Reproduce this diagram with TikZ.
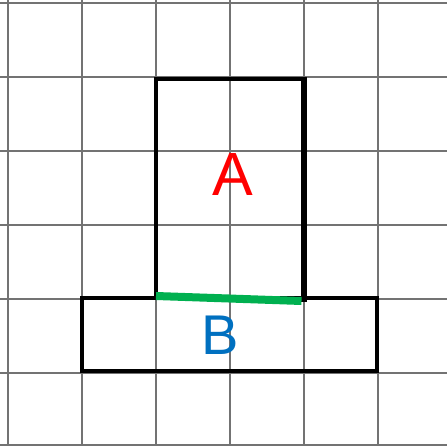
\documentclass[tikz,border=0pt]{standalone}
\usepackage{fontspec}
\setmainfont{Liberation Sans}
\definecolor{lblred}{RGB}{255,0,0}
\definecolor{lblblue}{RGB}{0,112,192}
\definecolor{edgegreen}{RGB}{0,176,80}
\begin{document}
\begin{tikzpicture}[x=1pt,y=-1pt,
  gridline/.style={draw=black!55,line width=1.6pt},
  shapeline/.style={draw=black,line width=3.2pt},
  lbl/.style={inner sep=0pt,anchor=center}]
\useasboundingbox (0,0) rectangle (447,446);
\fill[white] (0,0) rectangle (447,446);
% grid
\foreach \x in {8,82,156,230,304,378} \draw[gridline] (\x,0) -- (\x,446);
\foreach \y in {3,77,151,225,299,373,445} \draw[gridline] (0,\y) -- (447,\y);
% shape B
\draw[shapeline] (82,298) rectangle (377,371);
% shape A
\draw[shapeline] (156,298) -- (156,79) -- (304,79);
\draw[draw=black,line width=5.5pt] (304,77.4) -- (304,302);
% green shared edge
\coordinate (g1) at (156,296);
\coordinate (g2) at (301.5,301);
\draw[edgegreen,line width=8pt] (g1) -- (g2);
% labels
\node[lbl,text=lblred,font=\fontsize{61}{61}\selectfont] (A) at (233,175) {A};
\node[lbl,text=lblblue,font=\fontsize{56}{56}\selectfont] (B) at (220,335) {B};
\end{tikzpicture}
\end{document}
